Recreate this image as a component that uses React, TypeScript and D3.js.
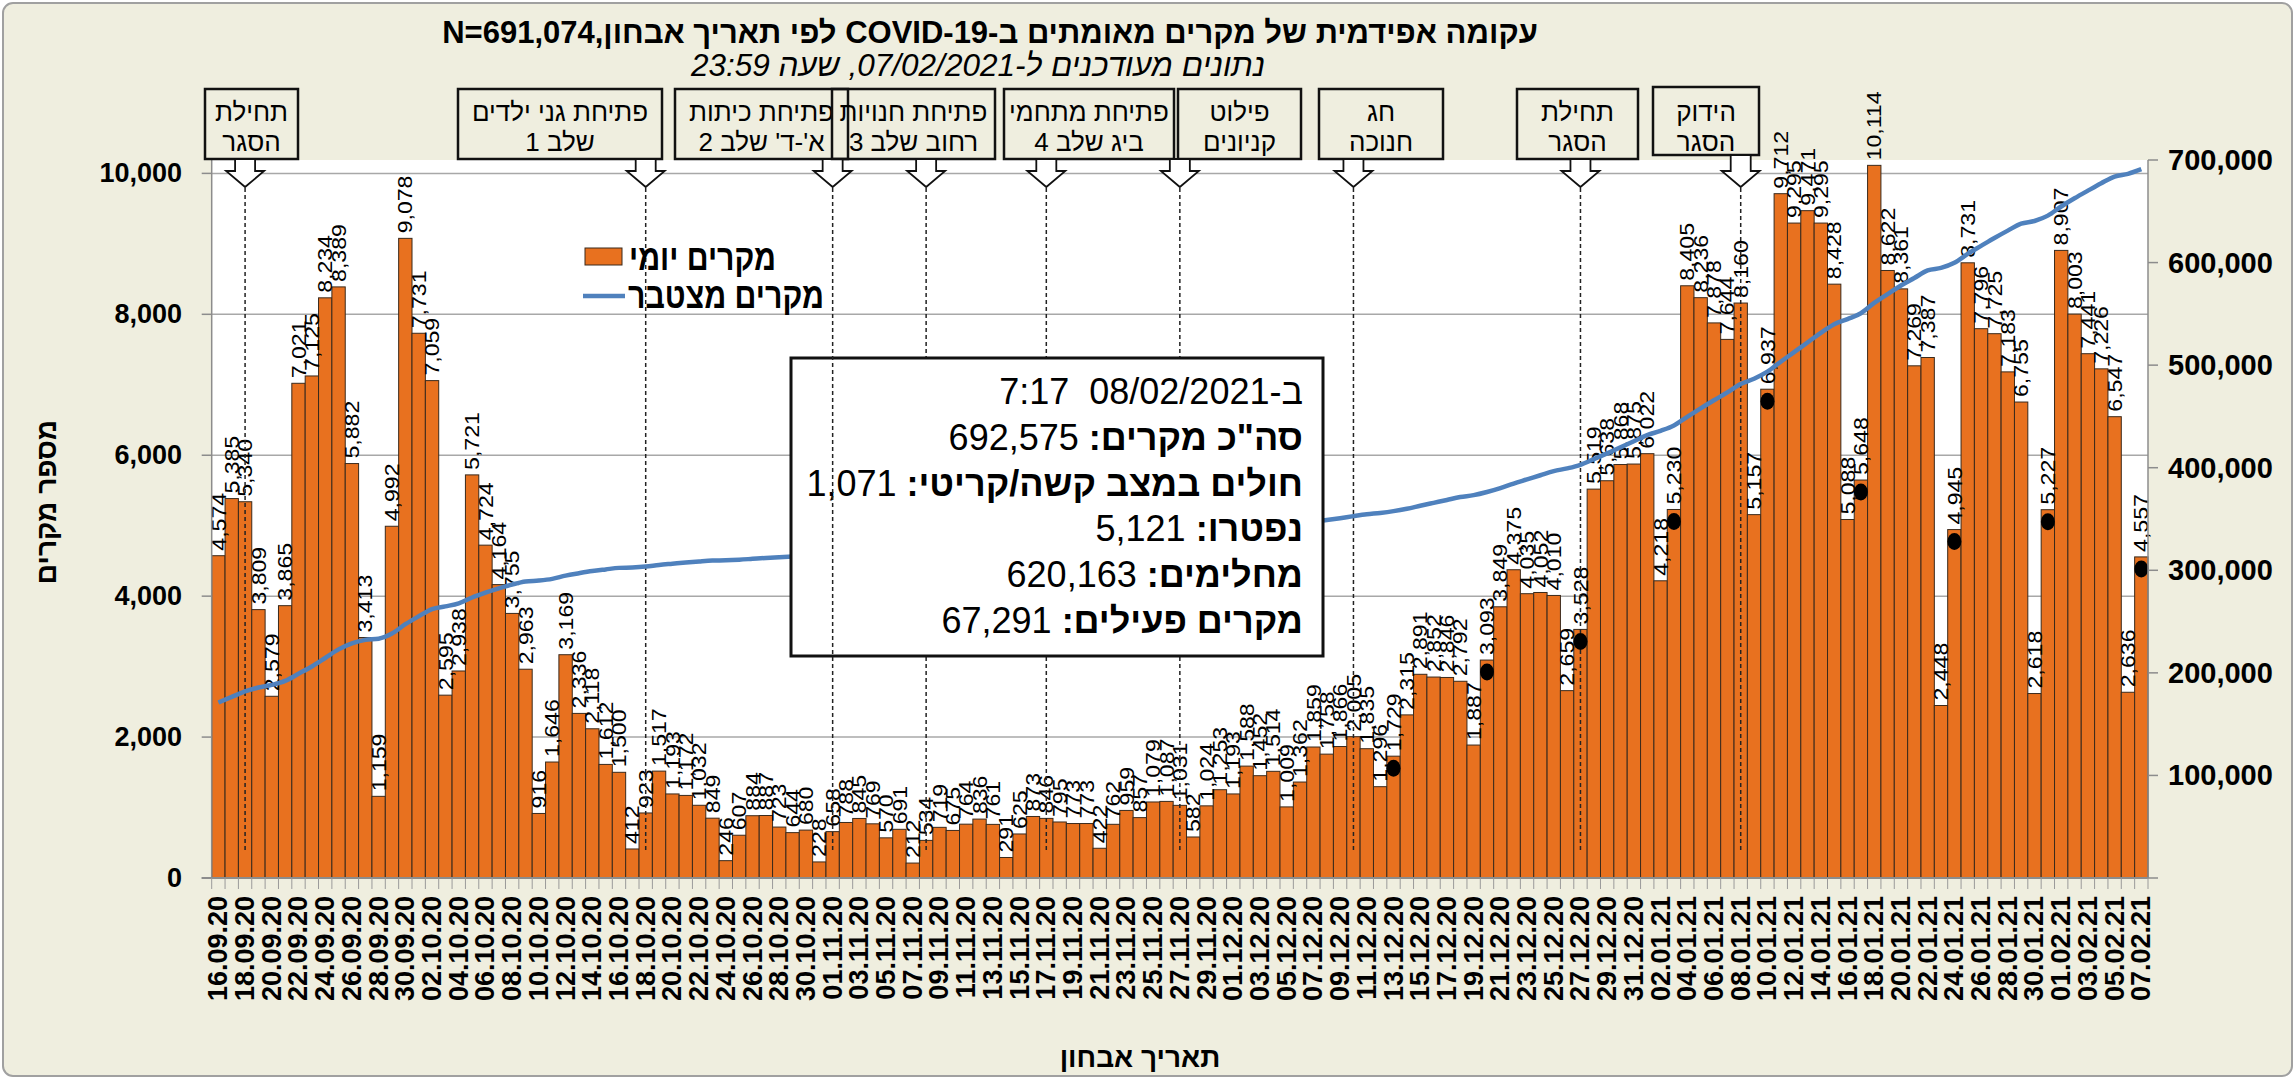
import React from "react";
import * as d3 from "d3";

// ---------------- DATA ----------------
const dates: string[] = [
  "16.09.20","17.09.20","18.09.20","19.09.20","20.09.20","21.09.20","22.09.20","23.09.20","24.09.20","25.09.20",
  "26.09.20","27.09.20","28.09.20","29.09.20","30.09.20","01.10.20","02.10.20","03.10.20","04.10.20","05.10.20",
  "06.10.20","07.10.20","08.10.20","09.10.20","10.10.20","11.10.20","12.10.20","13.10.20","14.10.20","15.10.20",
  "16.10.20","17.10.20","18.10.20","19.10.20","20.10.20","21.10.20","22.10.20","23.10.20","24.10.20","25.10.20",
  "26.10.20","27.10.20","28.10.20","29.10.20","30.10.20","31.10.20","01.11.20","02.11.20","03.11.20","04.11.20",
  "05.11.20","06.11.20","07.11.20","08.11.20","09.11.20","10.11.20","11.11.20","12.11.20","13.11.20","14.11.20",
  "15.11.20","16.11.20","17.11.20","18.11.20","19.11.20","20.11.20","21.11.20","22.11.20","23.11.20","24.11.20",
  "25.11.20","26.11.20","27.11.20","28.11.20","29.11.20","30.11.20","01.12.20","02.12.20","03.12.20","04.12.20",
  "05.12.20","06.12.20","07.12.20","08.12.20","09.12.20","10.12.20","11.12.20","12.12.20","13.12.20","14.12.20",
  "15.12.20","16.12.20","17.12.20","18.12.20","19.12.20","20.12.20","21.12.20","22.12.20","23.12.20","24.12.20",
  "25.12.20","26.12.20","27.12.20","28.12.20","29.12.20","30.12.20","31.12.20","01.01.21","02.01.21","03.01.21",
  "04.01.21","05.01.21","06.01.21","07.01.21","08.01.21","09.01.21","10.01.21","11.01.21","12.01.21","13.01.21",
  "14.01.21","15.01.21","16.01.21","17.01.21","18.01.21","19.01.21","20.01.21","21.01.21","22.01.21","23.01.21",
  "24.01.21","25.01.21","26.01.21","27.01.21","28.01.21","29.01.21","30.01.21","31.01.21","01.02.21","02.02.21",
  "03.02.21","04.02.21","05.02.21","06.02.21","07.02.21"
];

const dailyCases: number[] = [
  4574,5385,5340,3809,2579,3865,7021,7125,8234,8389,
  5882,3413,1159,4992,9078,7731,7059,2595,2938,5721,
  4724,4164,3755,2963,916,1646,3169,2336,2118,1612,
  1500,412,923,1517,1193,1172,1032,849,246,607,
  884,887,723,644,680,228,658,788,845,769,
  570,691,212,534,719,675,764,836,761,291,
  625,873,846,795,773,773,422,762,959,857,
  1079,1087,1031,582,1024,1253,1193,1588,1452,1514,
  1009,1362,1859,1758,1866,2005,1835,1296,1729,2315,
  2891,2852,2846,2792,1887,3093,3849,4375,4035,4052,
  4010,2659,3528,5519,5638,5868,5875,6022,4218,5230,
  8405,8236,7878,7644,8160,5157,6937,9712,9295,9471,
  9295,8428,5088,5648,10114,8622,8361,7269,7387,2448,
  4945,8731,7796,7725,7183,6755,2618,5227,8907,8003,
  7441,7226,6547,2636,4557
];

// confirmed cases before the first date shown (N=691,074 at the end)
const casesBeforeStart = 166559;

const markedDates: string[] = [
  "13.12.20","20.12.20","27.12.20","03.01.21","10.01.21","17.01.21","24.01.21","31.01.21","07.02.21"
];

const eventDates: string[] = [
  "18.09.20","18.10.20","01.11.20","08.11.20","17.11.20","27.11.20","10.12.20","27.12.20","08.01.21"
];
const eventLine1: string[] = [
  "תחילת","פתיחת גני ילדים","פתיחת כיתות","פתיחת חנויות","פתיחת מתחמי","פילוט","חג","תחילת","הידוק"
];
const eventLine2: string[] = [
  "הסגר","שלב 1","א'-ד' שלב 2","רחוב שלב 3","ביג שלב 4","קניונים","חנוכה","הסגר","הסגר"
];

const leftTicks: number[] = [0, 2000, 4000, 6000, 8000, 10000];
const rightTicks: number[] = [100000, 200000, 300000, 400000, 500000, 600000, 700000];

const titleText = "עקומה אפידמית של מקרים מאומתים ב-COVID-19 לפי תאריך אבחון,N=691,074";
const subtitleText = "נתונים מעודכנים ל-07/02/2021, שעה 23:59";
const infoHeader = "ב-08/02/2021  7:17";
const infoLabels: string[] = ["סה\"כ מקרים:", "חולים במצב קשה/קריטי:", "נפטרו:", "מחלימים:", "מקרים פעילים:"];
const infoValues: string[] = ["692,575", "1,071", "5,121", "620,163", "67,291"];
const legendDaily = "מקרים יומי";
const legendCumulative = "מקרים מצטבר";
const yTitle = "מספר מקרים";
const xTitle = "תאריך אבחון";

// ---------------- LAYOUT ----------------
const W = 2295, H = 1079;
const PL = 211.7, PR = 2148, PT = 160, PB = 878;
const boxLeft = [205, 458, 675, 832, 1004, 1178, 1319, 1517, 1653];
const boxRight = [298, 662, 848, 995, 1174, 1301, 1443, 1638, 1759];
const boxTop = [89, 89, 89, 89, 89, 89, 89, 89, 87];
const boxBottom = [159, 159, 159, 159, 159, 159, 159, 159, 155];
const SANS = "'Liberation Sans', Arial, sans-serif";
const BG = "#EFEEDF";
const ORANGE = "#E8711F";
const BLUE = "#4F81BD";

export default function App() {
  const x = d3.scaleBand<string>().domain(dates).range([PL, PR]).padding(0);
  const bw = x.bandwidth();
  const cx = (d: string) => (x(d) as number) + bw / 2;
  const yL = d3.scaleLinear().domain([0, 10190]).range([PB, PT]);
  const yR = d3.scaleLinear().domain([0, 700000]).range([PB, PT]);
  const cumulative = Array.from(d3.cumsum(dailyCases)).map((v) => v + casesBeforeStart);
  const lineGen = d3
    .line<number>()
    .x((_, i) => cx(dates[i]))
    .y((d) => yR(d))
    .curve(d3.curveMonotoneX);
  const fmt = d3.format(",");
  const valueOf = new Map(dates.map((d, i) => [d, dailyCases[i]]));

  const infoX = 1303;
  const infoY0 = 391;
  const infoStep = 45.8;

  const arrow = (ax: number, top: number) => {
    const hb = 171, tip = 187, hw = 19, sw = 10;
    return `M${ax - sw},${top} L${ax + sw},${top} L${ax + sw},${hb} L${ax + hw},${hb} L${ax},${tip} L${ax - hw},${hb} L${ax - sw},${hb} Z`;
  };

  return (
    <svg
      width={W}
      height={H}
      style={{ position: "absolute", left: 0, top: 0, fontFamily: SANS }}
    >
      <rect x={0} y={0} width={W} height={H} fill="#FFFFFF" />
      <rect x={3} y={3} width={W - 6} height={H - 6} rx={10} fill={BG} stroke="#A0A0A0" strokeWidth={2} />

      {/* plot area */}
      <rect x={PL} y={PT} width={PR - PL} height={PB - PT} fill="#FFFFFF" />
      {leftTicks.filter((t) => t > 0).map((t) => (
        <line key={"g" + t} x1={PL} x2={PR} y1={yL(t)} y2={yL(t)} stroke="#A8A8A8" strokeWidth={1.5} />
      ))}

      {/* bars */}
      {dates.map((d, i) => (
        <rect
          key={"b" + d}
          x={x(d)}
          y={yL(dailyCases[i])}
          width={bw}
          height={PB - yL(dailyCases[i])}
          fill={ORANGE}
          stroke="#3A2A1C"
          strokeWidth={1}
        />
      ))}

      {/* bar labels */}
      {dates.map((d, i) => (
        <text
          key={"l" + d}
          transform={`translate(${cx(d)},${yL(dailyCases[i]) - 5}) rotate(-90) scale(1.1,1)`}
          textAnchor="start"
          dominantBaseline="central"
          fontSize={21}
          fill="#000"
        >
          {fmt(dailyCases[i])}
        </text>
      ))}

      {/* dashed event lines behind the info box */}
      {eventDates.map((d, i) =>
        i === 2 ? null : (
          <line key={"e" + d} x1={cx(d)} x2={cx(d)} y1={188} y2={851} stroke="#222" strokeWidth={1.5} strokeDasharray="4,3" />
        )
      )}

      {/* cumulative line */}
      <path d={lineGen(cumulative) || ""} fill="none" stroke={BLUE} strokeWidth={4.5} />

      {/* marked days */}
      {markedDates.map((d) => (
        <ellipse key={"m" + d} cx={cx(d)} cy={yL(valueOf.get(d) as number) + 12} rx={7} ry={8.5} fill="#000" />
      ))}

      {/* legend */}
      <rect x={585} y={248} width={37} height={17} fill={ORANGE} stroke="#3A2A1C" strokeWidth={1} />
      <text x={629} y={257} dominantBaseline="central" fontSize={36} fontWeight="bold" textAnchor="start"
        textLength={147} lengthAdjust="spacingAndGlyphs">
        {legendDaily}
      </text>
      <line x1={583} x2={625} y1={296} y2={296} stroke={BLUE} strokeWidth={4.5} />
      <text x={628} y={295} dominantBaseline="central" fontSize={36} fontWeight="bold" textAnchor="start"
        textLength={196} lengthAdjust="spacingAndGlyphs">
        {legendCumulative}
      </text>

      {/* info box */}
      <rect x={791} y={358} width={532} height={298} fill="#FFFFFF" stroke="#111" strokeWidth={3} />
      <text x={infoX} y={infoY0} dominantBaseline="central" textAnchor="end" fontSize={36} style={{ whiteSpace: "pre" }}>
        {infoHeader}
      </text>
      {infoLabels.map((lab, i) => (
        <text
          key={"i" + i}
          x={infoX}
          y={infoY0 + infoStep * (i + 1)}
          dominantBaseline="central"
          textAnchor="end"
          fontSize={36}
        >
          <tspan fontWeight="bold">{lab}</tspan>
          <tspan>{" " + infoValues[i]}</tspan>
        </text>
      ))}

      {/* dashed event line drawn over the box */}
      <line x1={cx(eventDates[2])} x2={cx(eventDates[2])} y1={188} y2={851} stroke="#222" strokeWidth={1.5} strokeDasharray="4,3" />

      {/* left axis */}
      <line x1={PL} x2={PL} y1={PT} y2={PB} stroke="#8C8C8C" strokeWidth={1.5} />
      {leftTicks.map((t) => (
        <g key={"lt" + t}>
          <line x1={PL - 10} x2={PL} y1={yL(t)} y2={yL(t)} stroke="#8C8C8C" strokeWidth={1.5} />
          <text x={182} y={yL(t)} textAnchor="end" dominantBaseline="central" fontSize={27} fontWeight="bold">
            {fmt(t)}
          </text>
        </g>
      ))}

      {/* right axis */}
      <line x1={PR} x2={PR} y1={PT} y2={PB} stroke="#8C8C8C" strokeWidth={1.5} />
      {[0, ...rightTicks].map((t) => (
        <line key={"rt" + t} x1={PR} x2={PR + 10} y1={yR(t)} y2={yR(t)} stroke="#8C8C8C" strokeWidth={1.5} />
      ))}
      {rightTicks.map((t) => (
        <text key={"rl" + t} x={2168} y={yR(t)} textAnchor="start" dominantBaseline="central" fontSize={29} fontWeight="bold">
          {fmt(t)}
        </text>
      ))}

      {/* bottom axis */}
      <line x1={PL - 10} x2={PR} y1={PB} y2={PB} stroke="#8C8C8C" strokeWidth={2} />
      {dates.map((d) => (
        <line key={"xt" + d} x1={x(d)} x2={x(d)} y1={PB} y2={PB + 11} stroke="#9A9A9A" strokeWidth={1} />
      ))}
      <line x1={PR} x2={PR} y1={PB} y2={PB + 11} stroke="#9A9A9A" strokeWidth={1} />
      {dates.map((d, i) =>
        i % 2 === 0 ? (
          <text
            key={"xl" + d}
            transform={`translate(${cx(d)},896) rotate(-90)`}
            textAnchor="end"
            dominantBaseline="central"
            fontSize={27}
            fontWeight="bold"
          >
            {d}
          </text>
        ) : null
      )}

      {/* axis titles */}
      <text transform="translate(46,502) rotate(-90)" textAnchor="middle" dominantBaseline="central" fontSize={28} fontWeight="bold">
        {yTitle}
      </text>
      <text x={1140} y={1057} textAnchor="middle" dominantBaseline="central" fontSize={28} fontWeight="bold">
        {xTitle}
      </text>

      {/* event boxes */}
      {eventDates.map((d, i) => (
        <rect
          key={"bx" + d}
          x={boxLeft[i]}
          y={boxTop[i]}
          width={boxRight[i] - boxLeft[i]}
          height={boxBottom[i] - boxTop[i]}
          fill={BG}
        />
      ))}
      {eventDates.map((d, i) => (
        <g key={"bt" + d}>
          <rect
            x={boxLeft[i]}
            y={boxTop[i]}
            width={boxRight[i] - boxLeft[i]}
            height={boxBottom[i] - boxTop[i]}
            fill="none"
            stroke="#111"
            strokeWidth={2.5}
          />
          <text x={(boxLeft[i] + boxRight[i]) / 2} y={112} direction="rtl" textAnchor="middle" dominantBaseline="central" fontSize={26}>
            {eventLine1[i]}
          </text>
          <text x={(boxLeft[i] + boxRight[i]) / 2} y={142} direction="rtl" textAnchor="middle" dominantBaseline="central" fontSize={26}>
            {eventLine2[i]}
          </text>
          <path d={arrow(cx(d), boxBottom[i])} fill="#FFFFFF" stroke="#111" strokeWidth={1.8} />
        </g>
      ))}

      {/* titles */}
      <text x={990} y={32} direction="rtl" textAnchor="middle" dominantBaseline="central" fontSize={31} fontWeight="bold">
        {titleText}
      </text>
      <text x={978} y={65} direction="rtl" textAnchor="middle" dominantBaseline="central" fontSize={31.5} fontStyle="italic">
        {subtitleText}
      </text>
    </svg>
  );
}
